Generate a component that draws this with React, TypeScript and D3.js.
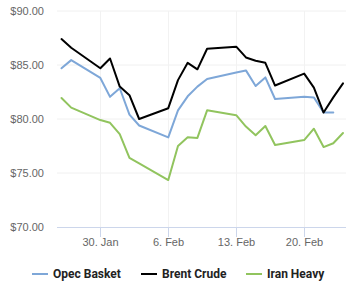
import React from "react";
import * as d3 from "d3";

const dates = [
  "2023-01-26", "2023-01-27", "2023-01-30", "2023-01-31", "2023-02-01", "2023-02-02", "2023-02-03",
  "2023-02-06", "2023-02-07", "2023-02-08", "2023-02-09", "2023-02-10",
  "2023-02-13", "2023-02-14", "2023-02-15", "2023-02-16", "2023-02-17",
  "2023-02-20", "2023-02-21", "2023-02-22", "2023-02-23", "2023-02-24",
];
const brentCrude = [87.4, 86.6, 84.7, 85.6, 83.0, 82.2, 80.0, 81.0, 83.6, 85.2, 84.6, 86.5, 86.7, 85.7, 85.4, 85.2, 83.1, 84.2, 82.9, 80.6, 82.0, 83.3];
const opecBasket = [84.7, 85.45, 83.8, 82.05, 82.85, 80.4, 79.4, 78.3, 80.8, 82.1, 83.0, 83.7, 84.3, 84.5, 83.05, 83.85, 81.85, 82.05, 82.0, 80.6, 80.6];
const iranHeavy = [81.95, 81.05, 79.9, 79.65, 78.6, 76.4, 75.9, 74.35, 77.5, 78.3, 78.25, 80.8, 80.35, 79.3, 78.5, 79.35, 77.6, 78.05, 79.1, 77.4, 77.75, 78.7];
const yTicks = [70, 75, 80, 85, 90];
const xTicks = ["2023-01-30", "2023-02-06", "2023-02-13", "2023-02-20"];

const seriesList = [
  { name: "Opec Basket", values: opecBasket, color: "#7ea7d8" },
  { name: "Brent Crude", values: brentCrude, color: "#000000" },
  { name: "Iran Heavy", values: iranHeavy, color: "#91c45e" },
];

export default function App() {
  const parse = d3.utcParse("%Y-%m-%d");
  const dts = dates.map((d) => parse(d) as Date);
  const x = d3.scaleUtc().domain([dts[0], dts[dts.length - 1]]).range([61.5, 343]);
  const y = d3.scaleLinear().domain([70, 90]).range([227, 11]);
  const plotLeft = 57;
  const plotRight = 346;
  const fmt = d3.utcFormat("%-d. %b");
  const line = d3
    .line<number>()
    .x((_, i) => x(dts[i]))
    .y((v) => y(v));

  const legendX = [32, 141, 246];

  return (
    <svg
      width={356}
      height={300}
      style={{ position: "absolute", left: 0, top: 0, background: "#fff" }}
      fontFamily="'Liberation Sans', Arial, sans-serif"
    >
      {yTicks.map((t) => (
        <g key={t}>
          {t !== 70 && (
            <line x1={plotLeft} x2={plotRight} y1={y(t)} y2={y(t)} stroke="#f0f0f0" strokeWidth={1} />
          )}
          <text x={44} y={y(t) + 4} textAnchor="end" fontSize={11} fill="#666">
            {"$" + t.toFixed(2)}
          </text>
        </g>
      ))}
      {xTicks.map((t) => {
        const d = parse(t) as Date;
        const px = Math.round(x(d)) + 0.5;
        return (
          <g key={t}>
            <line x1={px} x2={px} y1={11} y2={227} stroke="#f2f2f2" strokeWidth={1} />
            <line x1={px} x2={px} y1={227} y2={237} stroke="#ccd6eb" strokeWidth={1} />
            <text x={px} y={246} textAnchor="middle" fontSize={11} fill="#666">
              {fmt(d)}
            </text>
          </g>
        );
      })}
      <line x1={plotLeft} x2={plotRight} y1={227.5} y2={227.5} stroke="#ccd6eb" strokeWidth={1} />
      {seriesList.map((s) => (
        <path
          key={s.name}
          d={line(s.values) || ""}
          fill="none"
          stroke={s.color}
          strokeWidth={2}
          strokeLinejoin="round"
          strokeLinecap="round"
        />
      ))}
      {seriesList.map((s, i) => (
        <g key={s.name}>
          <line x1={legendX[i]} x2={legendX[i] + 16} y1={274} y2={274} stroke={s.color} strokeWidth={2} />
          <text
            x={legendX[i] + 21}
            y={278}
            fontSize={12}
            fontWeight="bold"
            fill="#222"
            fontFamily="Roboto, 'Liberation Sans', sans-serif"
          >
            {s.name}
          </text>
        </g>
      ))}
    </svg>
  );
}
